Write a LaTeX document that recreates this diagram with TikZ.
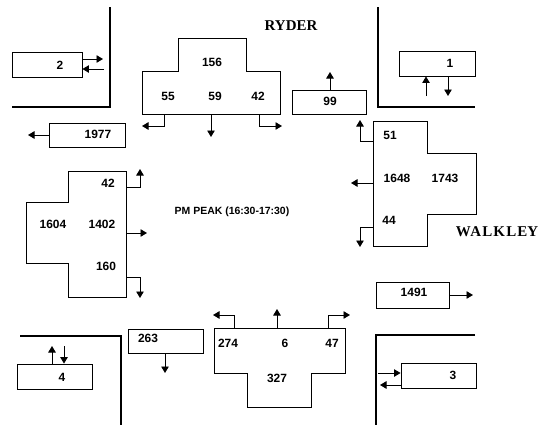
\documentclass[tikz,border=0pt]{standalone}
\usepackage{fontspec}
\setmainfont{Liberation Serif}
\setsansfont{Liberation Sans}
\usetikzlibrary{arrows.meta, positioning}

\begin{document}
\begin{tikzpicture}[
  x=1bp, y=-1bp,
  box/.style={rectangle, draw, line width=0.9bp, minimum width=75bp, minimum height=25bp, inner sep=0pt},
  num/.style={font=\sffamily\bfseries\fontsize{12}{14}\selectfont, inner sep=0pt},
  street/.style={font=\rmfamily\bfseries\fontsize{15}{17}\selectfont, inner sep=0pt},
  approach/.style={draw, line width=0.9bp},
  road/.style={line width=2.6bp},
  arrow/.style={-{Triangle[length=6.5bp,width=7.5bp]}, line width=0.9bp}
]
\useasboundingbox (0,0) rectangle (541,425);

\draw [road] (110,7) -- (110,107) -- (12,107);
\draw [road] (378,7) -- (378,107) -- (475,107);
\draw [road] (20,336) -- (121,336) -- (121,425);
\draw [road] (475,335) -- (376,335) -- (376,425);

\node (ryder) [street] at (291,26) {RYDER};
\node (walkley) [street] at (497,232) {\addfontfeature{LetterSpace=8}WALKLE\addfontfeature{LetterSpace=0}Y};
\node (peak) [font=\sffamily\bfseries\fontsize{10.5}{12}\selectfont, inner sep=0pt] at (232,212) {PM PEAK (16:30-17:30)};

\node (box2) [box, minimum width=70bp] at (47,64.5) {};
\node (n2) [num] at (60,65) {2};
\node (box1977) [box, minimum width=76bp, minimum height=24bp] at (87,135) {};
\node (n1977) [num] at (98,134) {1977};
\node (box99) [box, minimum width=74bp, minimum height=24bp] at (329,102) {};
\node (n99) [num] at (330,101) {99};
\node (box1) [box, minimum width=76bp] at (437,63.5) {};
\node (n1) [num] at (450,63) {1};
\node (box1491) [box, minimum width=73bp, minimum height=26bp] at (412.5,295) {};
\node (n1491) [num] at (414,292) {1491};
\node (box263) [box, minimum height=24bp] at (165.5,341) {};
\node (n263) [num] at (148,338) {263};
\node (box4) [box] at (54.5,376.5) {};
\node (n4) [num] at (62,377) {4};
\node (box3) [box] at (438.5,375.5) {};
\node (n3) [num] at (453,375) {3};

\path [approach] (142,71) -- (178,71) -- (178,38) -- (246,38) -- (246,71) -- (280,71) -- (280,114) -- (142,114) -- cycle;
\node (n156) [num] at (212,62) {156};
\node (n55) [num] at (168,96) {55};
\node (n59) [num] at (215,96) {59};
\node (n42n) [num] at (258,96) {42};

\path [approach] (373,121) -- (427,121) -- (427,153) -- (476,153) -- (476,214) -- (427,214) -- (427,246) -- (373,246) -- cycle;
\node (n51) [num] at (390,135) {51};
\node (n1648) [num] at (397,178) {1648};
\node (n1743) [num] at (445,178) {1743};
\node (n44) [num] at (389,220) {44};

\path [approach] (68,171) -- (126,171) -- (126,297) -- (68,297) -- (68,263) -- (26,263) -- (26,202) -- (68,202) -- cycle;
\node (n42w) [num] at (108,183) {42};
\node (n1604) [num] at (53,224) {1604};
\node (n1402) [num] at (102,224) {1402};
\node (n160) [num] at (106,266) {160};

\path [approach] (214,328) -- (345,328) -- (345,373) -- (311,373) -- (311,407) -- (247,407) -- (247,373) -- (214,373) -- cycle;
\node (n274) [num] at (228,343) {274};
\node (n6) [num] at (285,343) {6};
\node (n47) [num] at (332,343) {47};
\node (n327) [num] at (277,378) {327};

\coordinate (out2) at (103,59);
\coordinate (in2) at (104,69);
\coordinate (out1977) at (28,135);
\coordinate (out99) at (330,72);
\coordinate (in1) at (426,96);
\coordinate (out1) at (448,96);
\coordinate (out1491) at (473,295);
\coordinate (out263) at (165,373);
\coordinate (out4) at (52,346);
\coordinate (in4) at (64,346);
\coordinate (in3) at (378,373);
\coordinate (out3) at (380,385);

\draw [arrow] (out2 -| box2.east) -- (out2);
\draw [arrow] (in2) -- (in2 -| box2.east);
\draw [arrow] (out1977 -| box1977.west) -- (out1977);
\draw [arrow] (out99 |- box99.north) -- (out99);
\draw [arrow] (in1) -- (in1 |- box1.south);
\draw [arrow] (out1 |- box1.south) -- (out1);
\draw [arrow] (out1491 -| box1491.east) -- (out1491);
\draw [arrow] (out263 |- box263.south) -- (out263);
\draw [arrow] (out4 |- box4.north) -- (out4);
\draw [arrow] (in4) -- (in4 |- box4.north);
\draw [arrow] (in3) -- (in3 -| box3.west);
\draw [arrow] (out3 -| box3.west) -- (out3);

\coordinate (ry55) at (164,114);
\coordinate (ry55e) at (142,126);
\coordinate (ry59) at (211,114);
\coordinate (ry59e) at (211,137);
\coordinate (ry42) at (259,114);
\coordinate (ry42e) at (282,126);
\draw [arrow] (ry55) |- (ry55e);
\draw [arrow] (ry59) -- (ry59e);
\draw [arrow] (ry42) |- (ry42e);

\coordinate (wk51) at (373,141);
\coordinate (wk51e) at (360,120);
\coordinate (wk1648) at (373,183);
\coordinate (wk1648e) at (351,183);
\coordinate (wk44) at (373,227);
\coordinate (wk44e) at (360,247);
\draw [arrow] (wk51) -| (wk51e);
\draw [arrow] (wk1648) -- (wk1648e);
\draw [arrow] (wk44) -| (wk44e);

\coordinate (ws42) at (126,187);
\coordinate (ws42e) at (140,169);
\coordinate (ws1402) at (126,233);
\coordinate (ws1402e) at (147,233);
\coordinate (ws160) at (126,277);
\coordinate (ws160e) at (140,298);
\draw [arrow] (ws42) -| (ws42e);
\draw [arrow] (ws1402) -- (ws1402e);
\draw [arrow] (ws160) -| (ws160e);

\coordinate (sb274) at (234,328);
\coordinate (sb274e) at (213,315);
\coordinate (sb6) at (277,328);
\coordinate (sb6e) at (277,309);
\coordinate (sb47) at (328,328);
\coordinate (sb47e) at (350,315);
\draw [arrow] (sb274) |- (sb274e);
\draw [arrow] (sb6) -- (sb6e);
\draw [arrow] (sb47) |- (sb47e);

\end{tikzpicture}
\end{document}
